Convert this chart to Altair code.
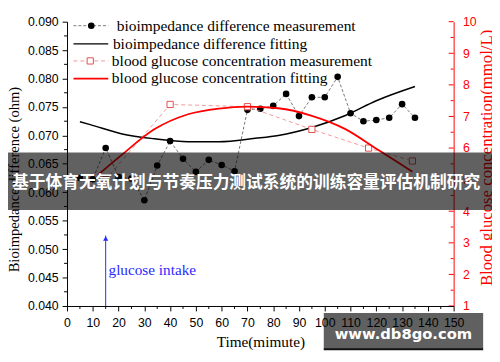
import altair as alt
import pandas as pd

# ---------------- data ----------------
bio_time = [5, 10, 15, 20, 25, 30, 35, 40, 45, 50, 55, 60, 65, 70, 75, 80, 85,
            90, 95, 100, 105, 110, 115, 120, 125, 130, 135]
bio_value = [0.0625, 0.0623, 0.0678, 0.0627, 0.0624, 0.0586, 0.0647, 0.0690,
             0.0659, 0.0636, 0.0657, 0.0648, 0.0637, 0.0745, 0.0747, 0.0752,
             0.0773, 0.0734, 0.0767, 0.0767, 0.0803, 0.0739, 0.0725, 0.0727,
             0.0731, 0.0755, 0.0731]

bio_fit_time = [5, 9, 21, 34, 47, 59, 73, 82, 95, 108, 120, 135]
bio_fit_value = [0.0724, 0.0719, 0.0703, 0.0694, 0.0689, 0.0689, 0.0695,
                 0.0700, 0.0714, 0.0735, 0.0761, 0.0786]

glu_time = [15, 40, 70, 95, 117, 134]
glu_value = [5.0, 7.38, 7.31, 6.59, 6.00, 5.59]

glu_fit_time = [12, 21, 34, 47, 59, 70, 82, 95, 108, 120, 131, 134]
glu_fit_value = [5.15, 5.77, 6.60, 7.07, 7.25, 7.31, 7.26, 7.02, 6.60, 5.98,
                 5.41, 5.25]

left_ticks = [0.040, 0.045, 0.050, 0.055, 0.060, 0.065, 0.070, 0.075, 0.080, 0.085, 0.090]
left_minor = [0.0425, 0.0475, 0.0525, 0.0575, 0.0625, 0.0675, 0.0725, 0.0775, 0.0825, 0.0875]
right_ticks = [1, 2, 3, 4, 5, 6, 7, 8, 9, 10]
right_minor = [1.5, 2.5, 3.5, 4.5, 5.5, 6.5, 7.5, 8.5, 9.5]
x_ticks = [0, 10, 20, 30, 40, 50, 60, 70, 80, 90, 100, 110, 120, 130, 140, 150]
x_minor = [5, 15, 25, 35, 45, 55, 65, 75, 85, 95, 105, 115, 125, 135, 145]

legend_labels = ["bioimpedance difference measurement",
                 "bioimpedance difference fitting",
                 "blood glucose concentration measurement",
                 "blood glucose concentration fitting"]
legend_y = [0.0893, 0.0861, 0.0831, 0.0800]
legend_text_x = [19.3, 17.8, 17.4, 17.4]
legend_line_x = [2.5, 16.0]
legend_marker_x = [9.4, 9.0]

intake_time = [15]
intake_from = [0.040]
intake_to = [0.0524]
intake_label = ["glucose intake"]
intake_label_pos = [16.1, 0.0463]

banner_text = "基于体育无氧计划与节奏压力测试系统的训练容量评估机制研究"
watermark_text = "www.db8go.com"

SANS = "Liberation Sans"
SERIF = "Liberation Serif"
RED = "#ff0000"

# ---------------- scales / axes ----------------
xs = alt.Scale(domain=[0, 150], nice=False, zero=False)
yl = alt.Scale(domain=[0.040, 0.090], nice=False, zero=False)
yr = alt.Scale(domain=[1, 10], nice=False, zero=False)

x_axis = alt.Axis(title="Time(mimute)", values=x_ticks, format="d", grid=False,
                  labelFont=SANS, labelFontSize=12.5, labelColor="black",
                  labelFlush=False, labelOverlap=False, tickSize=5,
                  tickColor="black", domainColor="black", labelPadding=6,
                  titleFont=SERIF, titleFontSize=15.5, titleFontWeight="normal",
                  titleColor="black", titlePadding=6, zindex=1)
yl_axis = alt.Axis(title="Bioimpedance difference (ohm)", values=left_ticks,
                   format=".3f", grid=False, labelFont=SANS, labelFontSize=12.5,
                   labelColor="black", labelOverlap=False, labelFlush=False,
                   tickSize=5, tickColor="black", domainColor="black",
                   labelPadding=4, titleFont=SERIF, titleFontSize=14.8,
                   titleFontWeight="normal", titleColor="black", titlePadding=6,
                   titleY=160)
yr_axis = alt.Axis(orient="right", title="Blood glucose concentration(mmol/L)",
                   values=right_ticks, format="d", grid=False, ticks=False,
                   labelFont=SANS, labelFontSize=12.5, labelColor=RED,
                   labelOverlap=False, labelFlush=False, domainColor=RED,
                   labelPadding=9, titleFont=SERIF, titleFontSize=17,
                   titleFontWeight="normal", titleColor=RED, titleAngle=270,
                   titleBaseline="top", titlePadding=3, titleY=138)


def X(f):
    return alt.X(f"{f}:Q", scale=xs, axis=x_axis)


def X2(f):
    return alt.X2(f"{f}:Q")


def YL(f):
    return alt.Y(f"{f}:Q", scale=yl, axis=yl_axis)


def YR(f):
    return alt.Y(f"{f}:Q", scale=yr, axis=yr_axis)


bio_df = pd.DataFrame({"t": bio_time, "v": bio_value})
bio_fit_df = pd.DataFrame({"t": bio_fit_time, "v": bio_fit_value})
glu_df = pd.DataFrame({"t": glu_time, "v": glu_value})
glu_fit_df = pd.DataFrame({"t": glu_fit_time, "v": glu_fit_value})

# ---------------- left-axis group ----------------
bio_line = alt.Chart(bio_df).mark_line(color="#555555", strokeWidth=0.8,
                                       strokeDash=[3, 2]).encode(x=X("t"), y=YL("v"))
bio_pts = alt.Chart(bio_df).mark_point(filled=True, color="black", size=45,
                                       opacity=1).encode(x=X("t"), y=YL("v"))
bio_fit = alt.Chart(bio_fit_df).mark_line(color="black", strokeWidth=1.5,
                                          interpolate="monotone").encode(x=X("t"), y=YL("v"))

intake_df = pd.DataFrame({"t": intake_time, "a": intake_from, "b": intake_to})
arrow = alt.Chart(intake_df).mark_rule(color="#2a2aff", strokeWidth=1).encode(
    x=X("t"), y=YL("a"), y2=alt.Y2("b:Q"))
arrow_head = alt.Chart(intake_df).mark_point(shape="triangle-up", filled=True,
                                             color="#2a2aff", size=28, opacity=1,
                                             yOffset=3).encode(x=X("t"), y=YL("b"))
intake_txt = alt.Chart(pd.DataFrame({"t": [intake_label_pos[0]], "v": [intake_label_pos[1]],
                                     "s": intake_label})).mark_text(
    align="left", baseline="middle", font=SERIF, fontSize=15.5, color="#2a2aff"
).encode(x=X("t"), y=YL("v"), text="s:N")


def leg_line(i, color, width, dash=None):
    df = pd.DataFrame({"a": [legend_line_x[0]], "b": [legend_line_x[1]], "v": [legend_y[i]]})
    kw = dict(color=color, strokeWidth=width)
    if dash:
        kw["strokeDash"] = dash
    return alt.Chart(df).mark_rule(**kw).encode(x=X("a"), x2=X2("b"), y=YL("v"))


leg1 = leg_line(0, "#555555", 0.8, [3, 2])
leg1m = alt.Chart(pd.DataFrame({"t": [legend_marker_x[0]], "v": [legend_y[0]]})).mark_point(
    filled=True, color="black", size=45, opacity=1).encode(x=X("t"), y=YL("v"))
leg2 = leg_line(1, "black", 1.5)
leg3 = leg_line(2, "#f08080", 0.8, [4, 3])
leg3m = alt.Chart(pd.DataFrame({"t": [legend_marker_x[1]], "v": [legend_y[2]]})).mark_point(
    shape="square", filled=True, fill="white", stroke="#e05050", strokeWidth=1,
    size=40, opacity=1).encode(x=X("t"), y=YL("v"))
leg4 = leg_line(3, RED, 1.8)
leg_txt = alt.Chart(pd.DataFrame({"t": legend_text_x, "v": legend_y, "s": legend_labels})).mark_text(
    align="left", baseline="middle", font=SERIF, fontSize=15.7, color="black"
).encode(x=X("t"), y=YL("v"), text="s:N")

lminor = alt.Chart(pd.DataFrame({"v": left_minor})).mark_rule(color="black", strokeWidth=1).encode(
    x=alt.value(-3), x2=alt.value(0), y=YL("v"))
xminor = alt.Chart(pd.DataFrame({"t": x_minor})).mark_rule(color="black", strokeWidth=1).encode(
    x=X("t"), y=alt.value(289), y2=alt.value(292))

left_group = alt.layer(lminor, xminor, bio_fit, bio_line, bio_pts, arrow, arrow_head,
                       intake_txt, leg1, leg1m, leg2, leg3, leg3m, leg4, leg_txt)

# ---------------- right-axis group ----------------
glu_line = alt.Chart(glu_df).mark_line(color="#f08080", strokeWidth=0.8,
                                       strokeDash=[4, 3]).encode(x=X("t"), y=YR("v"))
glu_pts = alt.Chart(glu_df).mark_point(shape="square", filled=True, fill="white",
                                       stroke="#e05050", strokeWidth=1, size=40,
                                       opacity=1).encode(x=X("t"), y=YR("v"))
glu_fit = alt.Chart(glu_fit_df).mark_line(color=RED, strokeWidth=1.8,
                                          interpolate="monotone").encode(x=X("t"), y=YR("v"))
rmajor = alt.Chart(pd.DataFrame({"v": right_ticks})).mark_rule(color=RED, strokeWidth=1).encode(
    x=alt.value(388), x2=alt.value(393), y=YR("v"))
rminor = alt.Chart(pd.DataFrame({"v": right_minor})).mark_rule(color=RED, strokeWidth=1).encode(
    x=alt.value(390), x2=alt.value(393), y=YR("v"))

one = pd.DataFrame({"k": [0]})
banner = alt.Chart(one).mark_rect(color="black", opacity=0.62).encode(
    x=alt.value(-70), x2=alt.value(440), y=alt.value(133), y2=alt.value(191.5))
banner_txt = alt.Chart(one).mark_text(
    text=banner_text, font="Noto Sans CJK SC", fontWeight="bold", fontSize=17,
    color="white", align="center", baseline="middle").encode(
    x=alt.value(182), y=alt.value(164))
wm_box = alt.Chart(one).mark_rect(color="#606060", opacity=1).encode(
    x=alt.value(261), x2=alt.value(423), y=alt.value(296), y2=alt.value(333))
wm_edge = alt.Chart(one).mark_rule(color="#111111", strokeWidth=2).encode(
    x=alt.value(261), x2=alt.value(423), y=alt.value(333))
wm_txt = alt.Chart(one).mark_text(
    text=watermark_text, font="DejaVu Sans", fontWeight="bold", fontSize=15,
    color="white", align="center", baseline="middle").encode(
    x=alt.value(342), y=alt.value(318))

right_group = alt.layer(rminor, rmajor, glu_line, glu_pts, glu_fit,
                        banner, banner_txt, wm_box, wm_edge, wm_txt)

chart = alt.layer(left_group, right_group).resolve_scale(y="independent").properties(
    width=393, height=289,
    padding={"left": 60, "top": 11, "right": 39, "bottom": 54},
    autosize=alt.AutoSizeParams(type="none"),
    background="white",
).configure_view(stroke="transparent")

chart.save("out.html", embed_options={"renderer": "svg", "actions": False})
